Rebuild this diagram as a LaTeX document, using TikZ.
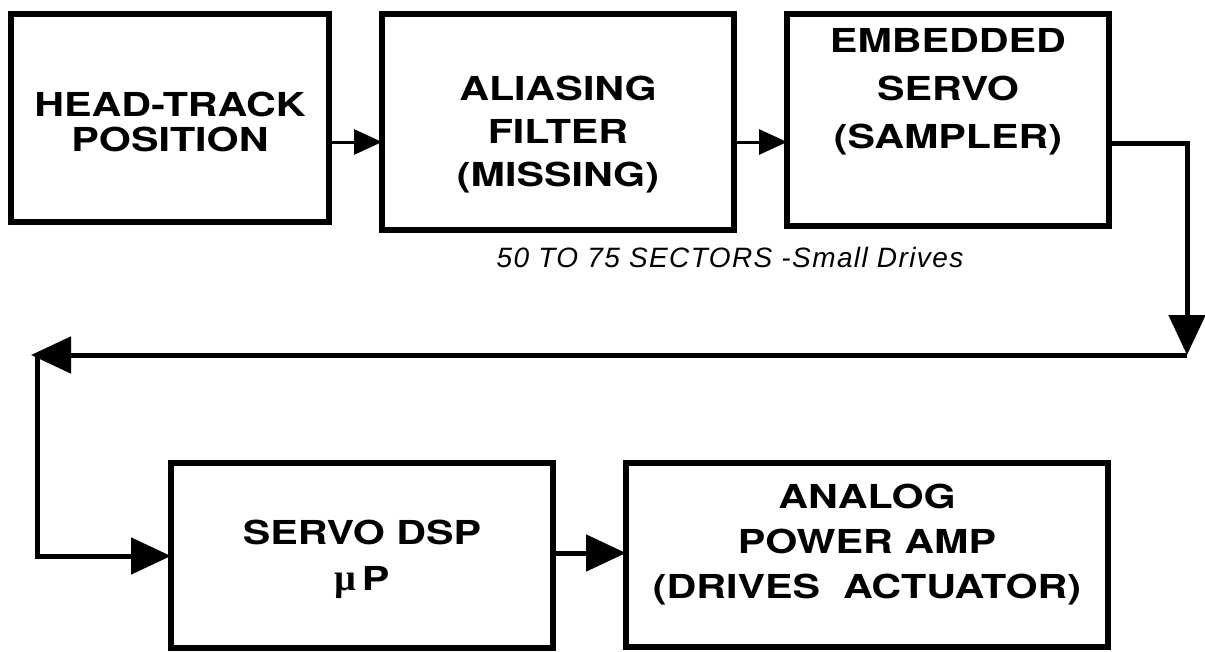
\documentclass[tikz,border=0pt]{standalone}
\usepackage{fontspec}
\newfontfamily\blockfont{TeX Gyre Heros}[FakeStretch=1.25]
\newfontfamily\notefont{Liberation Sans}[LetterSpace=5]
\newfontfamily\greekfont{Liberation Serif}
\usepackage{tikz}
\usetikzlibrary{arrows.meta, positioning}
\tikzset{
    block/.style={
        rectangle,
        draw=black,
        line width=5.5pt,
        inner sep=0pt,
        outer sep=0pt,
        text depth=10pt,
        align=center,
        font=\fontsize{33}{35}\selectfont\blockfont\bfseries
    },
    link/.style={
        draw,
        line width=3pt,
        -{Triangle[length=28pt,width=25pt]}
    },
    bigline/.style={
        draw,
        line width=5pt,
        -{Triangle[length=40pt,width=36pt]}
    },
    note/.style={
        font=\fontsize{28}{32}\selectfont\notefont\itshape
    }
}

\begin{document}
\begin{tikzpicture}[x=1pt, y=1pt]

    \useasboundingbox (0,0) rectangle (1205,-651);

    % Top row
    \node (head) [block, minimum width=318pt, minimum height=208pt, anchor=north west, text height=76pt]
        at (11,-14) {HEAD-TRACK\\POSITION};

    \node (alias) [block, minimum width=352pt, minimum height=216pt, text height=138pt,
        right=53pt of head.north east, anchor=north west] {ALIASING\\[8pt]FILTER\\[8pt](MISSING)};

    \node (embed) [block, minimum width=322pt, minimum height=212pt, text height=67pt,
        right=53pt of alias.north east, anchor=north west] {EMBEDDED\\[13pt]SERVO\\[13pt](SAMPLER)};

    % Note
    \node (sectors) [note] at (730,-257) {50 TO 75 SECTORS -Small Drives};

    % Bottom row
    \node (dsp) [block, minimum width=382pt, minimum height=185pt, text height=79pt,
        below=241pt of head.south west, anchor=north west, xshift=160pt]
        {SERVO DSP\\[11pt]{\fontsize{38}{35}\selectfont\greekfont\textmu}\,P};

    \node (amp) [block, minimum width=482pt, minimum height=184pt, text height=96pt,
        right=73pt of dsp.north east, anchor=north west] {ANALOG\\[10pt]POWER AMP\\[10pt](DRIVES\ \ ACTUATOR)};

    % Loop corners
    \coordinate (rtop) at (1187,-143);
    \coordinate (rbot) at (1187,-355);
    \coordinate (lend) at (31,-355);
    \coordinate (ltop) at (37,-355);
    \coordinate (lbot) at (37,-556);

    % Connections
    \draw [link] (head.east |- 0,-142) -- (alias.west |- 0,-142);
    \draw [link] (alias.east |- 0,-142) -- (embed.west |- 0,-142);
    \draw [bigline] (embed.east |- rtop) -- (rtop) -- (rbot);
    \draw [bigline] (rbot) -- (lend);
    \draw [bigline] (ltop) -- (lbot) -- (dsp.west |- lbot);
    \draw [bigline] (dsp.east |- 0,-553) -- (amp.west |- 0,-553);

\end{tikzpicture}
\end{document}
